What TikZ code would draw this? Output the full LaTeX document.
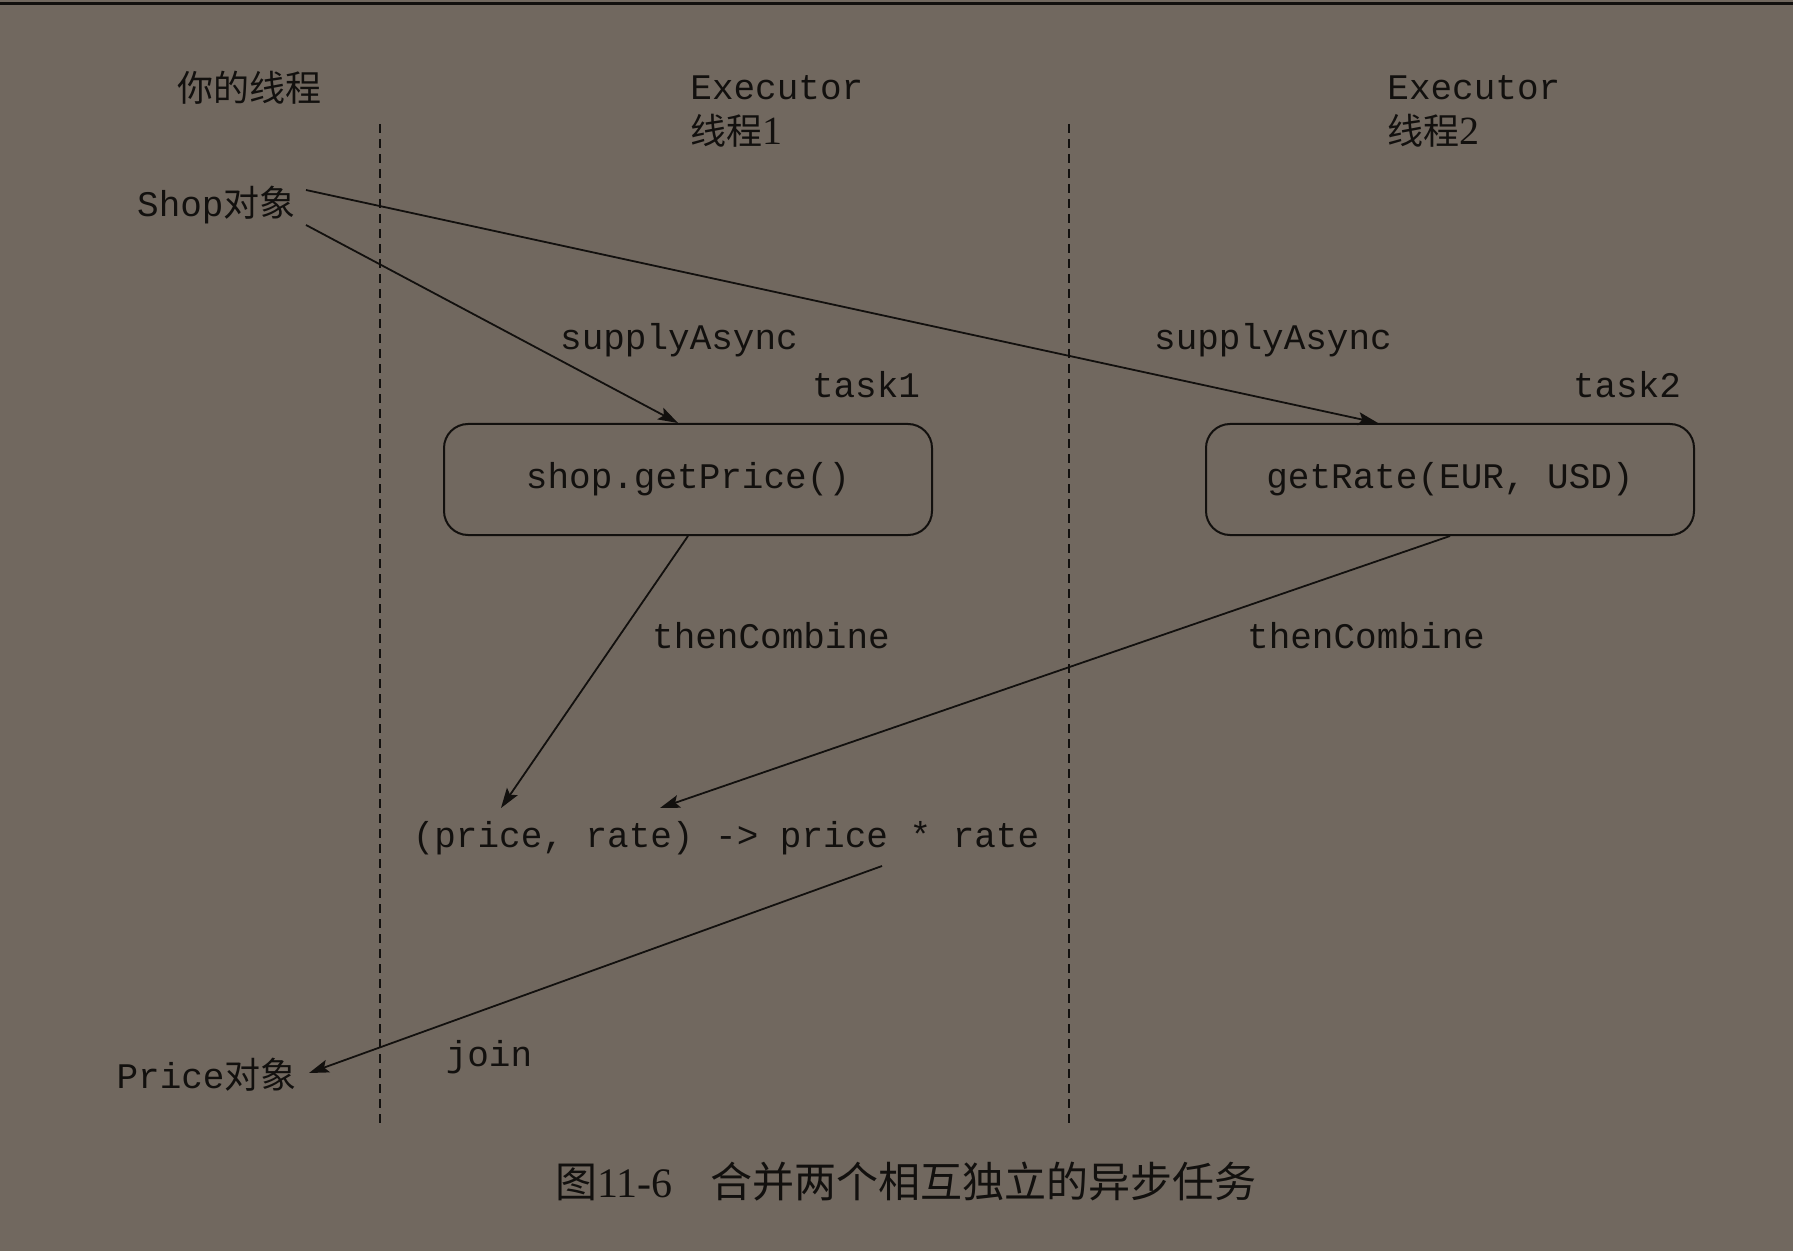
\documentclass[tikz,border=0pt]{standalone}
\usepackage{fontspec}
\setmainfont{Liberation Serif}
\setmonofont{Liberation Mono}
\newfontfamily\cjk{Noto Sans CJK SC}
\usetikzlibrary{arrows.meta}
\definecolor{bg}{RGB}{113,104,95}
\definecolor{ink}{RGB}{18,16,14}
\begin{document}
\begin{tikzpicture}[x=0.5pt,y=-0.5pt,
  mono/.style={font=\fontsize{18}{20}\selectfont\ttfamily, text=ink, inner sep=0pt},
  han/.style={font=\fontsize{18}{20}\selectfont\cjk, text=ink, inner sep=0pt},
  capt/.style={font=\fontsize{21}{23}\selectfont, text=ink, inner sep=0pt},
  taskbox/.style={draw=ink, line width=1pt, rounded corners=12pt, minimum width=244pt, minimum height=55.5pt, inner sep=0pt, font=\fontsize{18}{20}\selectfont\ttfamily, text=ink},
  lane/.style={draw=ink, line width=1pt, dash pattern=on 4.5pt off 3pt},
  flow/.style={draw=ink, line width=0.9pt, -{Stealth[length=10pt,width=6.5pt,inset=2pt]}}]
\fill[bg] (0,0) rectangle (1793,1251);
\useasboundingbox (0,0) rectangle (1793,1251);
\draw[ink, line width=1.5pt] (0,4) -- (1793,4);

% lanes
\draw[lane] (380,124) -- (380,1126);
\draw[lane] (1069,124) -- (1069,1126);

% headings
\node[han] (you) at (249,88) {你的线程};
\node[mono, anchor=west] (ex1) at (690,88) {Executor};
\node[anchor=west, inner sep=0pt, text=ink] (th1) at (690,131) {{\fontsize{18}{20}\selectfont\cjk 线程}{\fontsize{20}{22}\selectfont 1}};
\node[mono, anchor=west] (ex2) at (1387,88) {Executor};
\node[anchor=west, inner sep=0pt, text=ink] (th2) at (1387,131) {{\fontsize{18}{20}\selectfont\cjk 线程}{\fontsize{20}{22}\selectfont 2}};

% objects
\node[anchor=east, inner sep=0pt, text=ink] (shop) at (296,205) {{\fontsize{18}{20}\selectfont\ttfamily Shop}{\fontsize{18}{20}\selectfont\cjk 对象}};
\node[anchor=east, inner sep=0pt, text=ink] (price) at (297,1075) {{\fontsize{18}{20}\selectfont\ttfamily Price}{\fontsize{18}{20}\selectfont\cjk 对象}};

% boxes
\node[taskbox] (box1) at (688,479.5) {shop.getPrice()};
\node[taskbox] (box2) at (1450,479.5) {getRate(EUR, USD)};

% labels
\node[mono] (sa1) at (679,340) {supplyAsync};
\node[mono] (sa2) at (1273,340) {supplyAsync};
\node[mono] (t1) at (866,385) {task1};
\node[mono] (t2) at (1627,385) {task2};
\node[mono] (tc1) at (771,636) {thenCombine};
\node[mono] (tc2) at (1366,636) {thenCombine};
\node[mono] (lam) at (726,838) {(price, rate) -> price * rate};
\node[mono] (join) at (489,1057) {join};

\node[capt] (cap) at (906,1182) {{\cjk 图}11-6\hspace{0.9em}{\cjk 合并两个相互独立的异步任务}};

% connector end points
\coordinate (s1) at (306,190);
\coordinate (s2) at (306,225);
\coordinate (b1in) at (678,423);
\coordinate (b2in) at (1378,423);
\coordinate (l1) at (501,808);
\coordinate (l2) at (660,808);
\coordinate (lout) at (882,866);
\coordinate (pin) at (309,1073);

\draw[flow] (s2) -- (b1in);
\draw[flow] (s1) -- (b2in);
\draw[flow] (box1.south) -- (l1);
\draw[flow] (box2.south) -- (l2);
\draw[flow] (lout) -- (pin);
\end{tikzpicture}
\end{document}
